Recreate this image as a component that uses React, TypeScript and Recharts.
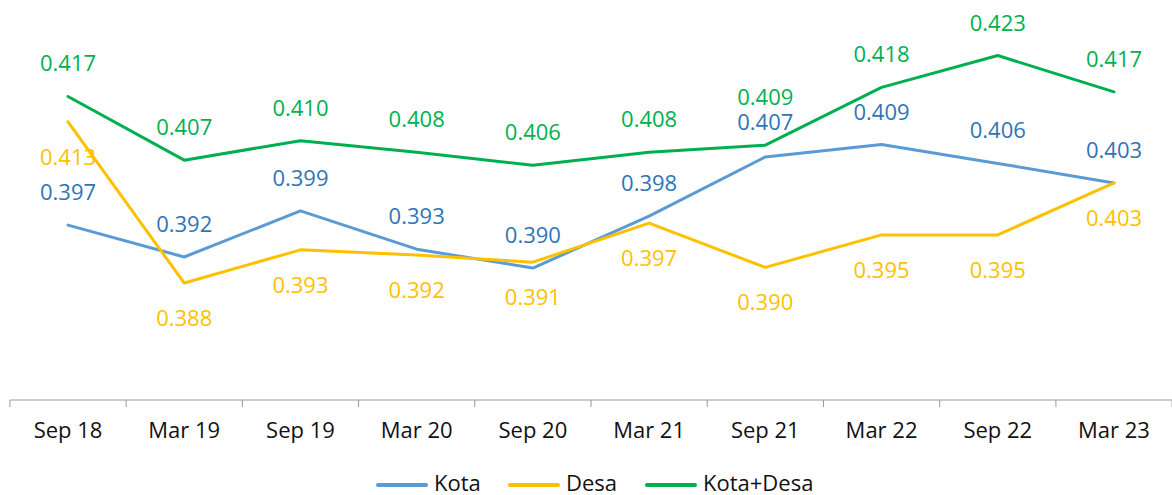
import React from 'react';
import { LineChart, Line, XAxis, YAxis, LabelList, Legend } from 'recharts';

const categories = ['Sep 18', 'Mar 19', 'Sep 19', 'Mar 20', 'Sep 20', 'Mar 21', 'Sep 21', 'Mar 22', 'Sep 22', 'Mar 23'];
const kota = [0.3969, 0.392, 0.3991, 0.3932, 0.3903, 0.3983, 0.4074, 0.4093, 0.4064, 0.4034];
const desa = [0.4128, 0.388, 0.3931, 0.3923, 0.3912, 0.3972, 0.3904, 0.3954, 0.3954, 0.4034];
const kotaDesa = [0.4167, 0.4069, 0.4099, 0.4081, 0.4061, 0.4081, 0.4092, 0.4181, 0.423, 0.4174];

const seriesNames = ['Kota', 'Desa', 'Kota+Desa'];
const lineColors = ['#5b9bd5', '#ffc000', '#00b050'];
const labelColors = ['#2e75b6', '#ffc000', '#00b050'];

const data = categories.map((c, i) => ({
  label: c,
  kota: kota[i],
  desa: desa[i],
  total: kotaDesa[i],
}));

const FONT = '"Open Sans", "Noto Sans", sans-serif';
const HALF_BAND = 58.1;

const CustomTick = (props: any) => {
  const { x, y, payload, index } = props;
  const isLast = index === categories.length - 1;
  return (
    <g>
      <line x1={x - HALF_BAND} x2={x - HALF_BAND} y1={y - 7} y2={y} stroke="#999" strokeWidth={1} />
      {isLast && <line x1={x + HALF_BAND} x2={x + HALF_BAND} y1={y - 7} y2={y} stroke="#999" strokeWidth={1} />}
      <text x={x} y={y + 31} textAnchor="middle" fontFamily={FONT} fontSize={22} fill="#111">
        {payload.value}
      </text>
    </g>
  );
};

const makeLabel = (color: string, dy: number, overrides: Record<number, number> = {}) => (props: any) => {
  const { x, y, value, index } = props;
  const off = overrides[index] !== undefined ? overrides[index] : dy;
  return (
    <text x={x} y={y + off} textAnchor="middle" fontFamily={FONT} fontSize={22} fill={color}>
      {Number(value).toFixed(3)}
    </text>
  );
};

const legendLefts = [376, 508, 645];

const LegendContent = () => (
  <div style={{ position: 'relative', width: 1172, height: 35 }}>
    {seriesNames.map((n, i) => (
      <div
        key={n}
        style={{
          position: 'absolute',
          left: legendLefts[i],
          top: 11,
          height: 22,
          display: 'flex',
          alignItems: 'center',
          fontFamily: FONT,
          fontSize: 22,
          color: '#111',
          whiteSpace: 'nowrap',
        }}
      >
        <span style={{ display: 'inline-block', width: 52, height: 3.5, background: lineColors[i], marginRight: 6, borderRadius: 2, position: 'relative', top: 3 }} />
        <span style={{ lineHeight: '22px' }}>{n}</span>
      </div>
    ))}
  </div>
);

export default function App() {
  return (
    <div style={{ position: 'absolute', left: 0, top: 0, width: 1172, height: 495, background: '#fff', overflow: 'hidden' }}>
      <LineChart width={1172} height={495} data={data} margin={{ top: 10, right: 0, left: 10, bottom: 0 }}>
        <XAxis
          dataKey="label"
          axisLine={{ stroke: '#999', strokeWidth: 1 }}
          tickLine={false}
          tickSize={7}
          tickMargin={0}
          tick={<CustomTick />}
          height={60}
          interval={0}
          padding={{ left: 58, right: 58 }}
        />
        <YAxis hide type="number" domain={[0.37, 0.43]} allowDataOverflow />
        <Legend verticalAlign="bottom" height={35} wrapperStyle={{ left: 0, width: 1172 }} content={<LegendContent />} />
        <Line dataKey="kota" name="Kota" stroke={lineColors[0]} strokeWidth={3} dot={false} type="linear" strokeLinejoin="round" strokeLinecap="round" isAnimationActive={false}>
          <LabelList dataKey="kota" content={makeLabel(labelColors[0], -25, { 6: -27 })} />
        </Line>
        <Line dataKey="desa" name="Desa" stroke={lineColors[1]} strokeWidth={3} dot={false} type="linear" strokeLinejoin="round" strokeLinecap="round" isAnimationActive={false}>
          <LabelList dataKey="desa" content={makeLabel(labelColors[1], 43)} />
        </Line>
        <Line dataKey="total" name="Kota+Desa" stroke={lineColors[2]} strokeWidth={3} dot={false} type="linear" strokeLinejoin="round" strokeLinecap="round" isAnimationActive={false}>
          <LabelList dataKey="total" content={makeLabel(labelColors[2], -25, { 6: -40 })} />
        </Line>
      </LineChart>
    </div>
  );
}
